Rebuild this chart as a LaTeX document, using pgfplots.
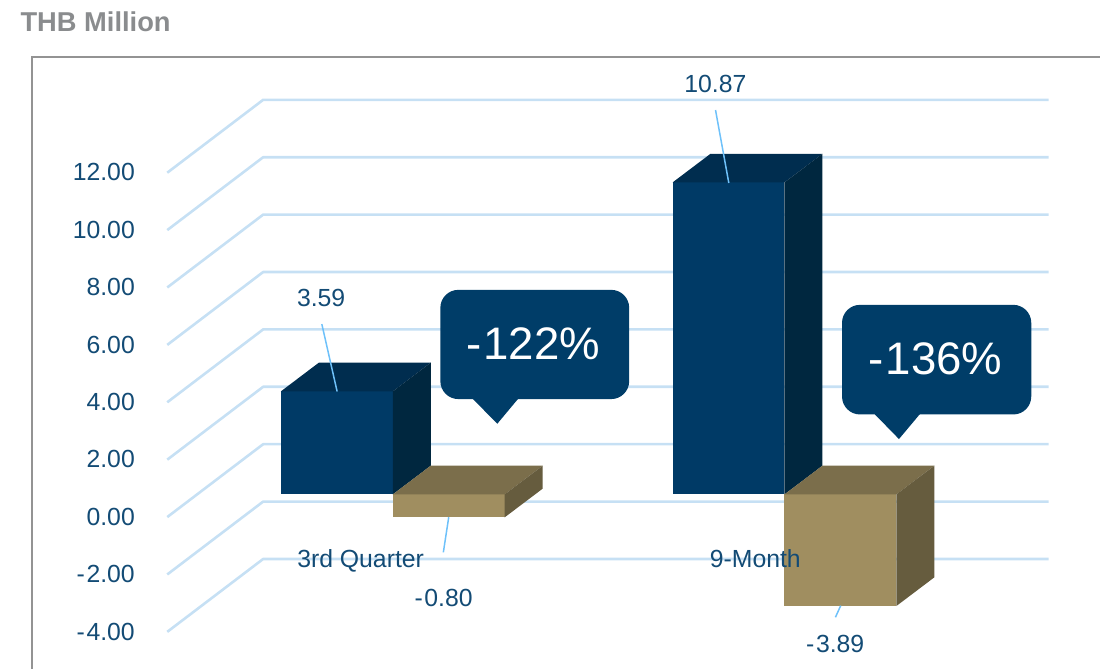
\documentclass[border=0pt]{standalone}
\usepackage{fontspec}
\setmainfont{Liberation Sans}
\usepackage{pgfplots}
\pgfplotsset{compat=1.18}

\definecolor{inktext}{HTML}{134B75}
\definecolor{titlegrey}{HTML}{8A8C8E}
\definecolor{framegrey}{HTML}{939393}
\definecolor{gridblue}{HTML}{C6E0F4}
\definecolor{leader}{HTML}{6EC1FA}
\definecolor{navyfront}{HTML}{003A66}
\definecolor{navytop}{HTML}{002D4F}
\definecolor{navyside}{HTML}{00273F}
\definecolor{tanfront}{HTML}{A08E60}
\definecolor{tantop}{HTML}{7B6E4B}
\definecolor{tanside}{HTML}{665C3E}
\definecolor{calloutblue}{HTML}{003D68}

\newcommand{\labelsize}{\fontsize{24.8}{30}\selectfont}
\newcommand{\calloutsize}{\fontsize{45.6}{54}\selectfont}
% vertical position given in points from the top of the picture
\newcommand{\py}[1]{{(494.7-#1)/28.72}}
% minus sign with a little more room before the digits
\newcommand{\mn}{-\kern1.6pt}

\begin{document}
\begin{tikzpicture}[x=1pt,y=1pt]
\begin{axis}[
    scale only axis,
    width=1101pt, height=669pt,
    xmin=-0.3, xmax=1100.7,
    ymin=-6.069, ymax=17.225,
    axis line style={draw=none},
    major tick length=0pt,
    axis on top,
    clip=false,
    /pgf/number format/assume math mode=true,
    xtick={360.5,755.5},
    xticklabels={3rd Quarter,9-Month},
    x tick label style={font=\labelsize, text=inktext, anchor=base, yshift=100.7pt, inner sep=0pt},
    ytick={11.22,9.22,7.22,5.22,3.22,1.22,-0.79,-2.79,-4.79},
    yticklabels={12.00,10.00,8.00,6.00,4.00,2.00,0.00,\mn2.00,\mn4.00},
    y tick label style={font=\labelsize, text=inktext, anchor=east, xshift=135pt, inner sep=0pt},
]
% outer frame, open on the right and at the bottom
\addplot[framegrey, line width=1.6pt] coordinates {(31.7,-6.069) (31.7,15.24) (1100.7,15.24)};

% gridlines running along the floor side and the back wall
\pgfplotsset{wall/.style={gridblue, line width=2.6pt, line join=round}}
\addplot[wall] coordinates {(167,11.21) (263,13.75) (1049,13.75)};
\addplot[wall] coordinates {(167,9.21) (263,11.75) (1049,11.75)};
\addplot[wall] coordinates {(167,7.21) (263,9.75) (1049,9.75)};
\addplot[wall] coordinates {(167,5.21) (263,7.75) (1049,7.75)};
\addplot[wall] coordinates {(167,3.21) (263,5.75) (1049,5.75)};
\addplot[wall] coordinates {(167,1.21) (263,3.75) (1049,3.75)};
\addplot[wall] coordinates {(167,-0.79) (263,1.75) (1049,1.75)};
\addplot[wall] coordinates {(167,-2.79) (263,-0.25) (1049,-0.25)};
\addplot[wall] coordinates {(167,-4.79) (263,-2.25) (1049,-2.25)};

% 3rd Quarter, first bar: 3.59
\addplot[draw=none, fill=navyfront] coordinates {(280.7,0) (392.7,0) (392.7,3.59) (280.7,3.59)} -- cycle;
\addplot[draw=none, fill=navytop] coordinates {(280.7,3.59) (392.7,3.59) (430.7,4.59) (318.7,4.59)} -- cycle;
\addplot[draw=none, fill=navyside] coordinates {(392.7,0) (430.7,1) (430.7,4.59) (392.7,3.59)} -- cycle;

% 3rd Quarter, second bar: -0.80
\addplot[draw=none, fill=tanfront] coordinates {(392.7,0) (504.7,0) (504.7,-0.80) (392.7,-0.80)} -- cycle;
\addplot[draw=none, fill=tantop] coordinates {(392.7,0) (504.7,0) (542.7,1) (430.7,1)} -- cycle;
\addplot[draw=none, fill=tanside] coordinates {(504.7,-0.80) (542.7,0.20) (542.7,1) (504.7,0)} -- cycle;

% 9-Month, first bar: 10.87
\addplot[draw=none, fill=navyfront] coordinates {(672.7,0) (784.7,0) (784.7,10.87) (672.7,10.87)} -- cycle;
\addplot[draw=none, fill=navytop] coordinates {(672.7,10.87) (784.7,10.87) (822.7,11.87) (710.7,11.87)} -- cycle;
\addplot[draw=none, fill=navyside] coordinates {(784.7,0) (822.7,1) (822.7,11.87) (784.7,10.87)} -- cycle;

% 9-Month, second bar: -3.89
\addplot[draw=none, fill=tanfront] coordinates {(784.7,0) (896.7,0) (896.7,-3.89) (784.7,-3.89)} -- cycle;
\addplot[draw=none, fill=tantop] coordinates {(784.7,0) (896.7,0) (934.7,1) (822.7,1)} -- cycle;
\addplot[draw=none, fill=tanside] coordinates {(896.7,-3.89) (934.7,-2.89) (934.7,1) (896.7,0)} -- cycle;

% leader lines from the bars to their value labels
\draw[leader, line width=1.5pt] (axis cs:321.7,\py{324.3}) -- (axis cs:337,\py{391.7});
\draw[leader, line width=1.5pt] (axis cs:448.7,\py{517.5}) -- (axis cs:443.3,\py{552.7});
\draw[leader, line width=1.5pt] (axis cs:715.7,\py{110}) -- (axis cs:729,\py{183});
\draw[leader, line width=1.5pt] (axis cs:841,\py{606}) -- (axis cs:835.7,\py{617.7});

% value labels
\node[font=\labelsize, text=inktext, anchor=base, inner sep=0pt] at (axis cs:321,\py{306.7}) {3.59};
\node[font=\labelsize, text=inktext, anchor=base, inner sep=0pt] at (axis cs:443.5,\py{606.7}) {\mn0.80};
\node[font=\labelsize, text=inktext, anchor=base, inner sep=0pt] at (axis cs:715.5,\py{92}) {10.87};
\node[font=\labelsize, text=inktext, anchor=base, inner sep=0pt] at (axis cs:835.5,\py{653.3}) {\mn3.89};

% change callouts
\fill[calloutblue, rounded corners=18pt] (axis cs:440.3,\py{290}) rectangle (axis cs:629.3,\py{399.3});
\fill[calloutblue] (axis cs:471.7,\py{398}) -- (axis cs:519,\py{398}) -- (axis cs:497.3,\py{424}) -- cycle;
\node[font=\calloutsize, text=white, anchor=base, inner sep=0pt] at (axis cs:533.5,\py{359.3}) {\mn122\%};

\fill[calloutblue, rounded corners=18pt] (axis cs:842.3,\py{305}) rectangle (axis cs:1031.7,\py{414.7});
\fill[calloutblue] (axis cs:874,\py{413.4}) -- (axis cs:921,\py{413.4}) -- (axis cs:899.3,\py{439.3}) -- cycle;
\node[font=\calloutsize, text=white, anchor=base, inner sep=0pt] at (axis cs:936,\py{374.3}) {\mn136\%};

% unit caption above the frame
\node[font=\fontsize{27.3}{32}\selectfont\bfseries, text=titlegrey, anchor=base west, inner sep=0pt] at (axis cs:20,\py{31.5}) {THB Million};
\end{axis}
\end{tikzpicture}
\end{document}
